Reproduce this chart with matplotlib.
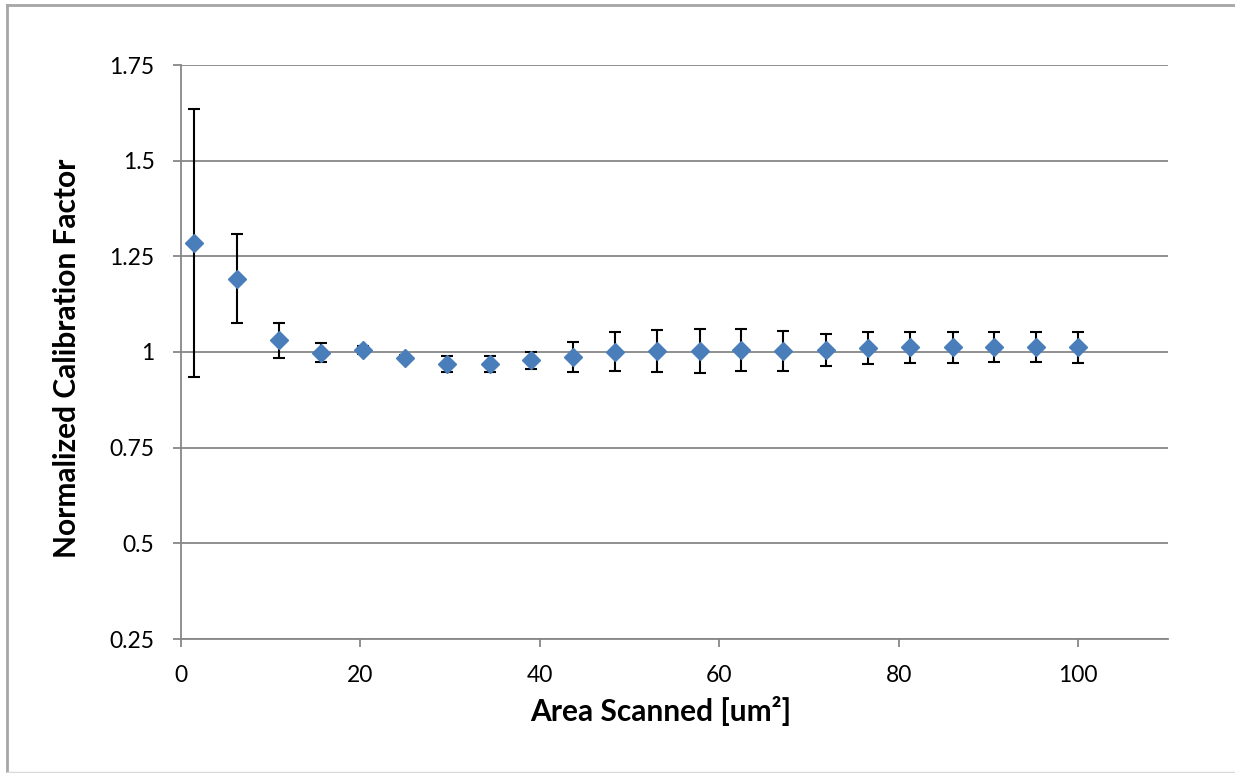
import matplotlib
matplotlib.use("Agg")
import matplotlib.pyplot as plt
from matplotlib.lines import Line2D

# area scanned [um^2]
area = [1.45, 6.24, 10.9, 15.6, 20.3, 25.0, 29.7, 34.4, 39.0, 43.7, 48.4,
        53.1, 57.8, 62.4, 67.1, 71.9, 76.6, 81.2, 86.0, 90.6, 95.3, 100.0]
# normalized calibration factor
factor = [1.284, 1.192, 1.031, 0.998, 1.005, 0.985, 0.969, 0.969, 0.978, 0.986, 1.001,
          1.003, 1.003, 1.006, 1.003, 1.006, 1.010, 1.012, 1.012, 1.013, 1.013, 1.012]
# error (+/-)
err = [0.350, 0.117, 0.046, 0.025, 0.010, 0.008, 0.020, 0.020, 0.023, 0.039, 0.050,
       0.055, 0.057, 0.055, 0.053, 0.042, 0.042, 0.041, 0.040, 0.039, 0.039, 0.041]

x_ticks = [0, 20, 40, 60, 80, 100]
y_ticks = [0.25, 0.5, 0.75, 1.0, 1.25, 1.5, 1.75]
y_labels = ["0.25", "0.5", "0.75", "1", "1.25", "1.5", "1.75"]

plt.rcParams["font.family"] = ["Lato", "DejaVu Sans"]

fig = plt.figure(figsize=(12.35, 7.73), dpi=100)
ax = fig.add_axes([181 / 1235, (773 - 639) / 773, (1168 - 181) / 1235, (639 - 65) / 773])

grid_col = "#878787"
ax.set_xlim(0, 110)
ax.set_ylim(0.25, 1.75)
ax.set_yticks(y_ticks)
ax.set_yticklabels(y_labels)
ax.set_xticks(x_ticks)
ax.yaxis.grid(True, color=grid_col, linewidth=1.3)
ax.set_axisbelow(True)

for s in ["top", "right"]:
    ax.spines[s].set_visible(False)
for s in ["left", "bottom"]:
    ax.spines[s].set_color(grid_col)
    ax.spines[s].set_linewidth(1.3)
ax.tick_params(axis="both", colors=grid_col, length=6, width=1.3, labelsize=16.5,
               labelcolor="black", pad=13)

ax.errorbar(area, factor, yerr=err, fmt="D", color="#4A7EBB", markersize=8.9,
            ecolor="black", elinewidth=1.5, capsize=4.5, capthick=1.5, zorder=3)

ax.set_xlabel("Area Scanned [um²]", fontsize=21.5, fontweight="bold", va="center")
ax.set_ylabel("Normalized Calibration Factor", fontsize=21.5, fontweight="bold", va="center")
ax.xaxis.set_label_coords(0.486, -0.125)
ax.yaxis.set_label_coords(-0.1155, 0.4887)

# chart area border
fig.add_artist(Line2D([7 / 1235, 7 / 1235], [0, 1 - 5 / 773], color="#A6A6A6", linewidth=2,
                      transform=fig.transFigure))
fig.add_artist(Line2D([7 / 1235, 1], [1 - 5 / 773, 1 - 5 / 773], color="#A6A6A6", linewidth=2,
                      transform=fig.transFigure))
fig.add_artist(Line2D([7 / 1235, 1], [1.5 / 773, 1.5 / 773], color="#D9D9D9", linewidth=1,
                      transform=fig.transFigure))

fig.savefig("out.png", dpi=100)
